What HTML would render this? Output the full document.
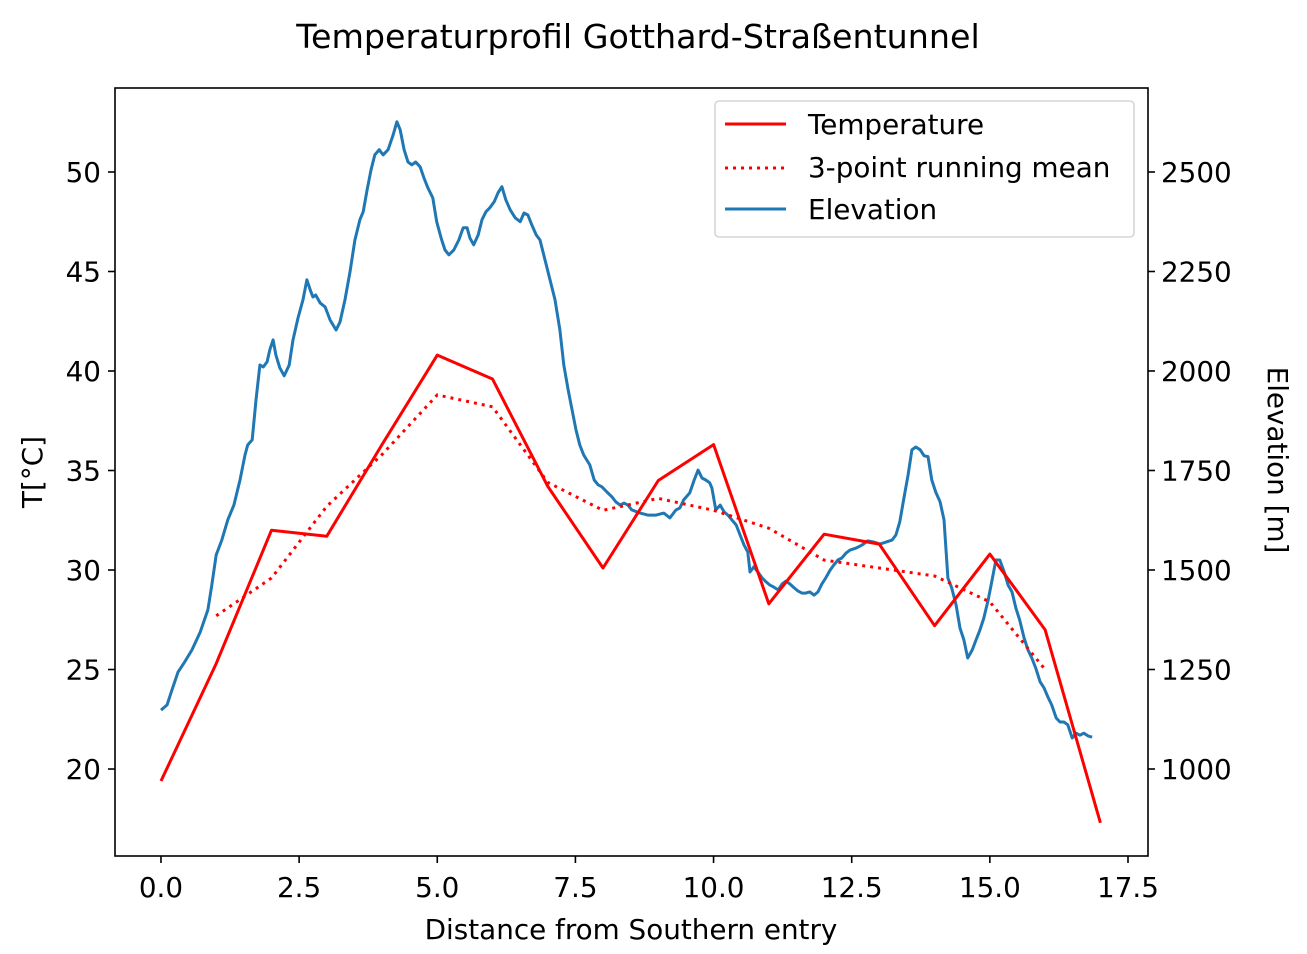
<!DOCTYPE html>
<html><head><meta charset="utf-8"><style>
html,body{margin:0;padding:0;background:#fff;}
svg{display:block;font-family:"DejaVu Sans","Liberation Sans",sans-serif;}
</style></head><body>
<svg id="chart" width="1307" height="954" viewBox="0 0 1307 954">
<text x="638" y="48" text-anchor="middle" font-size="33.3">Temperaturprofil Gotthard-Straßentunnel</text>
<g id="xticks"></g>
<g id="yticks"></g>
<g id="y2ticks"></g>
<g id="series"></g>
<rect x="115" y="88" width="1033" height="768" fill="none" stroke="#000" stroke-width="1.6"/>
<text x="631" y="939" text-anchor="middle" font-size="27.8">Distance from Southern entry</text>
<text transform="translate(42,472) rotate(-90)" text-anchor="middle" font-size="27.8">T[°C]</text>
<text transform="translate(1268,460) rotate(90)" text-anchor="middle" font-size="27.8">Elevation [m]</text>
<g>
<rect x="715" y="101" width="419" height="136" rx="4" fill="#fff" fill-opacity="0.8" stroke="#d6d6d6" stroke-width="1.6"/>
<line x1="725" y1="124" x2="786" y2="124" stroke="#ff0000" stroke-width="3"/>
<text x="808" y="134" font-size="27.8">Temperature</text>
<line x1="725" y1="168" x2="786" y2="168" stroke="#ff0000" stroke-width="3" stroke-dasharray="3,5"/>
<text x="808" y="177" font-size="27.8">3-point running mean</text>
<line x1="725" y1="209" x2="786" y2="209" stroke="#1f77b4" stroke-width="3"/>
<text x="808" y="219" font-size="27.8">Elevation</text>
</g>
</svg>
<script>
const tempDist=[0,1,2,3,4,5,6,7,8,9,10,11,12,13,14,15,16,17];
const tempVals=[19.4,25.3,32.0,31.7,36.3,40.8,39.6,34.2,30.1,34.5,36.3,28.3,31.8,31.3,27.2,30.8,27.0,17.3];
const meanDist=[1,2,3,4,5,6,7,8,9,10,11,12,13,14,15,16];
const meanVals=[27.7,29.6,33.2,35.8,38.8,38.2,34.4,33.0,33.6,33.0,32.1,30.5,30.1,29.7,28.4,25.0];
const elevDist=[0.00,0.11,0.20,0.31,0.43,0.56,0.71,0.85,0.92,1.00,1.10,1.21,1.32,1.43,1.52,1.57,1.65,1.72,1.79,1.85,1.92,1.97,2.03,2.08,2.15,2.23,2.32,2.39,2.48,2.57,2.64,2.70,2.75,2.80,2.88,2.97,3.06,3.17,3.24,3.33,3.42,3.51,3.60,3.66,3.73,3.80,3.87,3.95,4.02,4.11,4.20,4.27,4.33,4.40,4.47,4.54,4.61,4.69,4.76,4.83,4.92,4.99,5.07,5.14,5.21,5.30,5.39,5.47,5.54,5.59,5.66,5.74,5.81,5.88,5.95,6.03,6.10,6.17,6.24,6.32,6.41,6.50,6.57,6.64,6.71,6.79,6.86,6.95,7.04,7.13,7.22,7.29,7.37,7.44,7.51,7.58,7.65,7.76,7.84,7.91,7.98,8.07,8.16,8.23,8.31,8.38,8.45,8.52,8.67,8.81,8.96,9.10,9.21,9.32,9.39,9.46,9.57,9.65,9.72,9.79,9.86,9.93,9.97,10.04,10.12,10.19,10.26,10.33,10.41,10.48,10.55,10.62,10.66,10.73,10.80,10.88,10.95,11.02,11.09,11.17,11.24,11.31,11.38,11.46,11.53,11.60,11.67,11.74,11.82,11.89,11.96,12.03,12.11,12.18,12.25,12.32,12.40,12.47,12.58,12.69,12.79,12.90,13.01,13.12,13.23,13.30,13.37,13.44,13.52,13.59,13.66,13.74,13.81,13.88,13.95,14.02,14.10,14.17,14.24,14.31,14.39,14.46,14.53,14.60,14.68,14.75,14.82,14.89,14.97,15.04,15.11,15.18,15.26,15.33,15.40,15.47,15.54,15.62,15.69,15.76,15.83,15.91,15.98,16.05,16.12,16.20,16.27,16.34,16.41,16.49,16.56,16.63,16.70,16.78,16.85];
const elevVals=[1148,1161,1199,1244,1269,1299,1344,1400,1462,1538,1575,1626,1663,1726,1789,1814,1827,1927,2015,2010,2023,2053,2078,2040,2008,1988,2015,2078,2133,2179,2229,2204,2186,2191,2171,2161,2128,2103,2123,2179,2249,2329,2380,2400,2455,2505,2543,2556,2543,2556,2593,2626,2606,2556,2525,2518,2525,2513,2485,2460,2435,2375,2334,2304,2292,2304,2329,2360,2360,2334,2317,2342,2380,2400,2410,2425,2448,2463,2430,2405,2385,2375,2397,2392,2367,2342,2329,2279,2229,2179,2103,2015,1952,1902,1852,1814,1789,1764,1726,1714,1709,1696,1684,1671,1663,1668,1663,1651,1643,1638,1638,1643,1631,1651,1656,1676,1694,1726,1751,1731,1726,1719,1706,1651,1663,1646,1638,1626,1613,1588,1563,1545,1495,1508,1495,1480,1470,1462,1457,1450,1465,1472,1465,1455,1447,1442,1442,1445,1437,1445,1465,1480,1500,1513,1525,1530,1543,1550,1555,1563,1573,1570,1565,1570,1575,1588,1621,1676,1739,1802,1809,1802,1787,1785,1726,1696,1671,1626,1480,1455,1412,1354,1324,1279,1299,1324,1349,1379,1425,1475,1525,1525,1495,1462,1445,1405,1374,1329,1299,1279,1254,1219,1204,1181,1161,1128,1118,1118,1111,1078,1090,1085,1090,1083,1080];
const xTicks=[0,2.5,5,7.5,10,12.5,15,17.5];
const yTicks=[20,25,30,35,40,45,50];
const y2Ticks=[1000,1250,1500,1750,2000,2250,2500];

const NS='http://www.w3.org/2000/svg';
const X0=115,X1=1148,Y0=88,Y1=856;
const xMin=-0.832,xMax=17.862, yMin=15.63,yMax=54.22, y2Min=781.4,y2Max=2711;
const sx=v=>X0+(v-xMin)/(xMax-xMin)*(X1-X0);
const sy=v=>Y1-(v-yMin)/(yMax-yMin)*(Y1-Y0);
const sy2=v=>Y1-(v-y2Min)/(y2Max-y2Min)*(Y1-Y0);
function mk(tag,attrs,parent){const e=document.createElementNS(NS,tag);for(const k in attrs)e.setAttribute(k,attrs[k]);parent.appendChild(e);return e;}
const gx=document.getElementById('xticks'),gy=document.getElementById('yticks'),gy2=document.getElementById('y2ticks'),gs=document.getElementById('series');
xTicks.forEach(t=>{const x=sx(t);
 const l=mk('line',{x1:x,x2:x,y1:Y1,y2:Y1+7,stroke:'#000','stroke-width':1.6},gx);
 
 
 const tx=mk('text',{x:x,y:Y1+41,'text-anchor':'middle','font-size':27.8},gx);tx.textContent=t.toFixed(1);
 
 });
yTicks.forEach(t=>{const y=sy(t);
 const l=mk('line',{x1:X0-7,x2:X0,y1:y,y2:y,stroke:'#000','stroke-width':1.6},gy);
 
 
 const tx=mk('text',{x:X0-14,y:y+10,'text-anchor':'end','font-size':27.8},gy);tx.textContent=t;
 
 });
y2Ticks.forEach(t=>{const y=sy2(t);
 const l=mk('line',{x1:X1,x2:X1+7,y1:y,y2:y,stroke:'#000','stroke-width':1.6},gy2);
 
 
 const tx=mk('text',{x:X1+13,y:y+10,'text-anchor':'start','font-size':27.8},gy2);tx.textContent=t;
 
 });
function pts(xs,ys,f){return xs.map((d,i)=>sx(d).toFixed(1)+','+f(ys[i]).toFixed(1)).join(' ');}
const pe=mk('polyline',{points:pts(elevDist,elevVals,sy2),fill:'none',stroke:'#1f77b4','stroke-width':3,'stroke-linejoin':'round'},gs);


const pt=mk('polyline',{points:pts(tempDist,tempVals,sy),fill:'none',stroke:'#ff0000','stroke-width':3,'stroke-linejoin':'round'},gs);


const pm=mk('polyline',{points:pts(meanDist,meanVals,sy),fill:'none',stroke:'#ff0000','stroke-width':3,'stroke-dasharray':'3,5'},gs);


</script>
</body></html>
